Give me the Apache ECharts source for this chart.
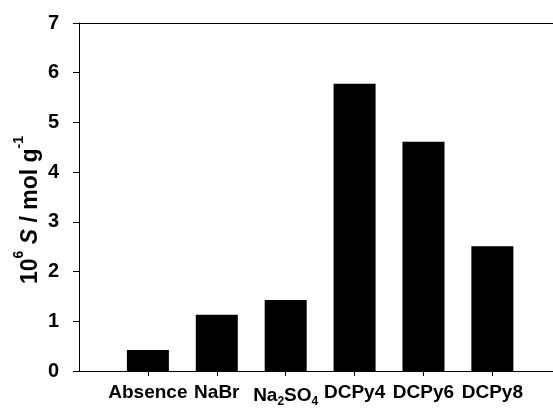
<!DOCTYPE html>
<html>
<head>
<meta charset="utf-8">
<script src="https://cdn.jsdelivr.net/npm/echarts@6/dist/echarts.min.js"></script>
<style>
html,body{margin:0;padding:0;background:#fff;}
#chart{width:553px;height:408px;}
</style>
</head>
<body>
<div id="chart"></div>
<script>
const categories = ['Absence', 'NaBr', 'Na2SO4', 'DCPy4', 'DCPy6', 'DCPy8'];
const positions = [1, 2, 3, 4, 5, 6];
const values = [0.42, 1.13, 1.43, 5.78, 4.61, 2.51];
const yTicks = [0, 1, 2, 3, 4, 5, 6, 7];

const FONT = '"Liberation Sans", Arial, sans-serif';
const chart = echarts.init(document.getElementById('chart'), null, {renderer: 'canvas'});

const labelMap = {};
positions.forEach((p, i) => { labelMap[p] = categories[i]; });

chart.setOption({
  animation: false,
  backgroundColor: '#fff',
  grid: {left: 79, top: 23, right: 0, bottom: 37, containLabel: false},
  xAxis: [{
    type: 'value',
    min: 0,
    max: 6.88,
    position: 'bottom',
    splitLine: {show: false},
    axisLine: {show: true, onZero: false, lineStyle: {color: '#000', width: 1}},
    axisTick: {show: true, customValues: positions, length: 5, inside: false, lineStyle: {color: '#000'}},
    axisLabel: {
      show: true,
      customValues: positions,
      margin: 12,
      color: '#000',
      fontFamily: FONT,
      fontWeight: 'bold',
      fontSize: 19,
      formatter: function (v) {
        const name = labelMap[Math.round(v)] || '';
        if (name === 'Na2SO4') return '{n|Na}{sub|2}{n|SO}{sub|4}';
        return '{n|' + name + '}';
      },
      rich: {
        n: {fontFamily: FONT, fontWeight: 'bold', fontSize: 19, color: '#000'},
        sub: {fontFamily: FONT, fontWeight: 'bold', fontSize: 12, color: '#000', padding: [13, 0, 0, 0]}
      }
    }
  }, {
    type: 'value',
    min: 0,
    max: 6.88,
    position: 'top',
    splitLine: {show: false},
    axisLine: {show: true, onZero: false, lineStyle: {color: '#000', width: 1}},
    axisTick: {show: false},
    axisLabel: {show: false}
  }],
  yAxis: {
    type: 'value',
    min: 0,
    max: 7,
    interval: 1,
    splitLine: {show: false},
    axisLine: {show: true, onZero: false, lineStyle: {color: '#000', width: 1}},
    axisTick: {show: true, length: 6, inside: false, lineStyle: {color: '#000'}},
    axisLabel: {
      margin: 20,
      color: '#000',
      fontFamily: FONT,
      fontWeight: 'bold',
      fontSize: 20
    }
  },
  graphic: [{
    type: 'text',
    x: 27,
    y: 210,
    rotation: Math.PI / 2,
    style: {
      text: '{a|10}{s|6}{a| }{i|S}{a| / mol g}{s|-1}',
      align: 'center',
      verticalAlign: 'middle',
      rich: {
        a: {fontFamily: FONT, fontWeight: 'bold', fontSize: 23, fill: '#000', lineHeight: 30, verticalAlign: 'bottom'},
        i: {fontFamily: FONT, fontWeight: 'bold', fontStyle: 'italic', fontSize: 23, fill: '#000', lineHeight: 30, verticalAlign: 'bottom'},
        s: {fontFamily: FONT, fontWeight: 'bold', fontSize: 14, fill: '#000', lineHeight: 30, verticalAlign: 'top'}
      }
    }
  }],
  series: [{
    type: 'bar',
    xAxisIndex: 0,
    barWidth: 42,
    itemStyle: {color: '#000'},
    data: positions.map((p, i) => [p, values[i]])
  }]
});
</script>
</body>
</html>
